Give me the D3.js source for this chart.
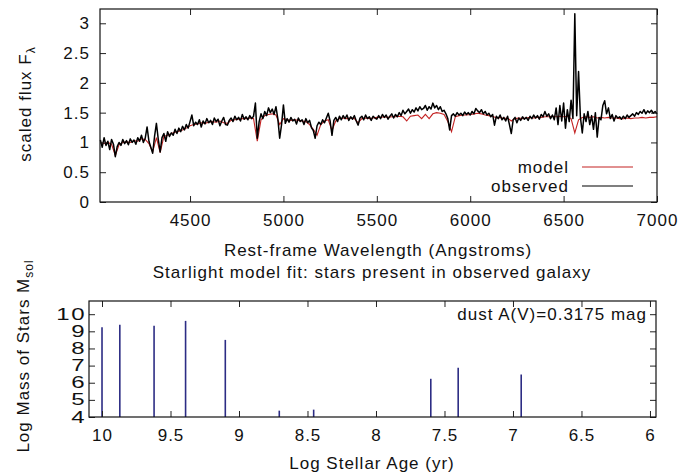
<!DOCTYPE html>
<html>
<head>
<meta charset="utf-8">
<script src="https://cdn.jsdelivr.net/npm/d3@7"></script>
<style>
body { margin: 0; background: #fff; }
text { font-family: "Liberation Sans", Arial, sans-serif; fill: #111; letter-spacing: 1px; }
</style>
</head>
<body>
<svg id="chart" width="694" height="475"></svg>
<script>
// spectrum, sampled every 10 A from 4020 to 7000
var observedFlux = [
    1.04, 0.92, 1.08, 0.95, 1.02, 0.88, 1.05, 0.97,
    0.76, 0.93, 1.00, 0.95, 1.05, 0.98, 1.03, 0.96, 1.06, 1.00,
    1.04, 0.97, 1.08, 1.02, 1.12, 1.00, 1.07, 1.26, 1.02, 0.92,
    0.82, 1.10, 1.32, 1.05, 0.84, 1.08, 1.15, 1.02, 1.18, 1.10,
    1.16, 1.12, 1.22, 1.15, 1.24, 1.18, 1.27, 1.21, 1.30, 1.24,
    1.35, 1.46, 1.28, 1.34, 1.30, 1.38, 1.26, 1.36, 1.31, 1.40,
    1.33, 1.37, 1.30, 1.41, 1.35, 1.39, 1.28, 1.36, 1.42, 1.30,
    1.29, 1.37, 1.41, 1.35, 1.44, 1.38, 1.42, 1.36, 1.47, 1.39,
    1.43, 1.38, 1.45, 1.40, 1.44, 1.66, 1.07, 1.35, 1.48, 1.40,
    1.52, 1.45, 1.58, 1.50, 1.56, 1.47, 1.60, 1.40, 1.07, 1.30,
    1.63, 1.32, 1.40, 1.34, 1.42, 1.36, 1.39, 1.31, 1.41, 1.35,
    1.38, 1.30, 1.40, 1.33, 1.37, 1.25, 1.20, 1.07, 1.28, 1.34,
    1.30, 1.38, 1.33, 1.41, 1.49, 1.36, 1.12, 1.37, 1.42, 1.35,
    1.44, 1.38, 1.45, 1.40, 1.46, 1.37, 1.43, 1.39, 1.45, 1.36,
    1.29, 1.41, 1.44, 1.38, 1.46, 1.40, 1.43, 1.37, 1.44, 1.41,
    1.39, 1.45, 1.40, 1.47, 1.42, 1.46, 1.39, 1.44, 1.48, 1.41,
    1.47, 1.43, 1.50, 1.45, 1.54, 1.48, 1.52, 1.56, 1.49, 1.55,
    1.51, 1.58, 1.53, 1.60, 1.55, 1.57, 1.62, 1.54, 1.60, 1.56,
    1.66, 1.58, 1.62, 1.55, 1.60, 1.52, 1.54, 1.48, 1.40, 1.21,
    1.45, 1.48, 1.44, 1.50, 1.46, 1.49, 1.45, 1.51, 1.47, 1.50,
    1.46, 1.52, 1.48, 1.57, 1.53, 1.50, 1.55, 1.48, 1.52, 1.46,
    1.49, 1.43, 1.47, 1.29, 1.44, 1.40, 1.46, 1.38, 1.42, 1.36,
    1.44, 1.30, 1.15, 1.38, 1.42, 1.33, 1.41, 1.37, 1.43, 1.39,
    1.42, 1.37, 1.44, 1.40, 1.46, 1.41, 1.45, 1.39, 1.47, 1.43,
    1.52, 1.44, 1.48, 1.40, 1.46, 1.38, 1.58, 1.30, 1.62, 1.36,
    1.66, 1.24, 1.55, 1.35, 1.71, 1.40, 3.16, 1.45, 2.19, 1.42,
    1.16, 1.48, 1.35, 1.52, 1.30, 1.45, 1.22, 1.50, 1.09, 1.42,
    1.38, 1.62, 1.70, 1.48, 1.58, 1.40, 1.47, 1.36, 1.45, 1.41,
    1.43, 1.39, 1.44, 1.40, 1.46, 1.42, 1.45, 1.48, 1.44, 1.50,
    1.47, 1.52, 1.49, 1.55, 1.48, 1.53, 1.50, 1.54, 1.49, 1.52,
    1.48
];
// model, every 20 A from 4020 to 7000
var modelFlux = [
    1.00, 0.98, 1.00, 0.97, 0.78, 0.96, 1.00, 1.01, 1.00, 1.03,
    1.02, 1.06, 1.05, 0.98, 0.84, 1.08, 0.83, 1.10, 1.12, 1.15,
    1.17, 1.19, 1.21, 1.24, 1.28, 1.30, 1.31, 1.33, 1.32, 1.34,
    1.35, 1.34, 1.36, 1.33, 1.32, 1.37, 1.38, 1.39, 1.40, 1.40,
    1.41, 1.40, 1.02, 1.38, 1.45, 1.47, 1.48, 1.46, 1.30, 1.40,
    1.38, 1.37, 1.38, 1.37, 1.36, 1.35, 1.30, 1.22, 1.12, 1.30,
    1.36, 1.38, 1.20, 1.36, 1.40, 1.41, 1.40, 1.41, 1.40, 1.33,
    1.40, 1.41, 1.40, 1.41, 1.42, 1.42, 1.43, 1.42, 1.43, 1.43,
    1.44, 1.43, 1.36, 1.44, 1.45, 1.46, 1.40, 1.47, 1.40, 1.48,
    1.50, 1.49, 1.47, 1.35, 1.18, 1.43, 1.45, 1.46, 1.46, 1.47,
    1.48, 1.49, 1.48, 1.46, 1.45, 1.44, 1.41, 1.42, 1.40, 1.41,
    1.36, 1.40, 1.41, 1.40, 1.41, 1.42, 1.41, 1.42, 1.42, 1.43,
    1.43, 1.44, 1.43, 1.44, 1.43, 1.44, 1.40, 1.16, 1.38, 1.42,
    1.43, 1.42, 1.43, 1.41, 1.42, 1.41, 1.42, 1.41, 1.41, 1.40,
    1.40, 1.41, 1.40, 1.41, 1.41, 1.42, 1.41, 1.42, 1.42, 1.43
];
var fluxTicks = [0, 0.5, 1, 1.5, 2, 2.5, 3];
var waveTicks = [4500, 5000, 5500, 6000, 6500, 7000];

// stellar populations
var logAge = [10.0, 9.87, 9.62, 9.39, 9.10, 8.706, 8.455, 7.60, 7.40, 6.94];
var logMass = [9.24, 9.38, 9.32, 9.61, 8.50, 4.37, 4.43, 6.23, 6.87, 6.48];
var ageTicks = [10, 9.5, 9, 8.5, 8, 7.5, 7, 6.5, 6];
var massTicks = [4, 5, 6, 7, 8, 9, 10];
var dustAV = 0.3175;

var svg = d3.select("#chart");
var fs = "17px";

// ---- top panel: spectrum
var x1 = d3.scaleLinear().domain([4018, 7000]).range([100, 657]);
var y1 = d3.scaleLinear().domain([0, 3.24]).range([202, 9]);

var obs = observedFlux.map(function (v, i) { return [4020 + i * 10, v]; });
var mod = modelFlux.map(function (v, i) { return [4020 + i * 20, v]; });

var line1 = d3.line().x(function (d) { return x1(d[0]); }).y(function (d) { return y1(d[1]); });

svg.append("path").datum(mod).attr("d", line1)
    .attr("fill", "none").attr("stroke", "#c42323").attr("stroke-width", 1.1);
svg.append("path").datum(obs).attr("d", line1)
    .attr("fill", "none").attr("stroke", "#000").attr("stroke-width", 1.5)
    .attr("stroke-linejoin", "round");

function drawFrame(x, y, xt, yt, xfmt, yfmt, ypad) {
    var g = svg.append("g");
    var xa = d3.axisBottom(x).tickValues(xt).tickSize(-6).tickSizeOuter(0).tickFormat(xfmt).tickPadding(12);
    var xtop = d3.axisTop(x).tickValues(xt).tickSize(-6).tickSizeOuter(0).tickFormat("");
    var ya = d3.axisLeft(y).tickValues(yt).tickSize(-6).tickSizeOuter(0).tickFormat(yfmt).tickPadding(ypad);
    var yright = d3.axisRight(y).tickValues(yt).tickSize(-6).tickSizeOuter(0).tickFormat("");
    g.append("g").attr("transform", "translate(0," + y.range()[0] + ")").call(xa);
    g.append("g").attr("transform", "translate(0," + y.range()[1] + ")").call(xtop);
    var yg = g.append("g").attr("transform", "translate(" + x.range()[0] + ",0)").call(ya);
    g.append("g").attr("transform", "translate(" + x.range()[1] + ",0)").call(yright);
    g.selectAll(".domain").remove();
    g.selectAll("line").attr("stroke", "#222");
    g.selectAll("text").style("font-size", fs).attr("fill", "#111")
        .style("font-family", "'Liberation Sans', Arial, sans-serif");
    g.append("rect")
        .attr("x", x.range()[0]).attr("y", y.range()[1])
        .attr("width", x.range()[1] - x.range()[0])
        .attr("height", y.range()[0] - y.range()[1])
        .attr("fill", "none").attr("stroke", "#111").attr("stroke-width", 1.2);
    return yg;
}

drawFrame(x1, y1, waveTicks, fluxTicks, d3.format("d"), d3.format("~g"), 10);

// legend
var legend = [["model", "#c42323", 167], ["observed", "#000", 186]];
legend.forEach(function (l) {
    svg.append("text").attr("x", 569).attr("y", l[2] + 6).attr("text-anchor", "end")
        .style("font-size", fs).text(l[0]);
    svg.append("line").attr("x1", 582).attr("x2", 633).attr("y1", l[2]).attr("y2", l[2])
        .attr("stroke", l[1]).attr("stroke-width", 1.2);
});

var yl1 = svg.append("text").attr("transform", "translate(31,104) rotate(-90)")
    .attr("text-anchor", "middle").style("font-size", fs);
yl1.append("tspan").text("scaled flux F");
yl1.append("tspan").attr("dy", 4).style("font-size", "12px").text("λ");

svg.append("text").attr("x", 378).attr("y", 256).attr("text-anchor", "middle")
    .style("font-size", fs).text("Rest-frame Wavelength (Angstroms)");
svg.append("text").attr("x", 372).attr("y", 278).attr("text-anchor", "middle")
    .style("font-size", fs).text("Starlight model fit: stars present in observed galaxy");

// ---- bottom panel: mass vs age
var x2 = d3.scaleLinear().domain([10.095, 5.956]).range([89, 656]);
var y2 = d3.scaleLinear().domain([4, 10.77]).range([417, 301]);

svg.append("g").selectAll("line").data(logAge).enter().append("line")
    .attr("x1", function (d) { return x2(d); })
    .attr("x2", function (d) { return x2(d); })
    .attr("y1", y2(4))
    .attr("y2", function (d, i) { return y2(logMass[i]); })
    .attr("stroke", "#2c2c84").attr("stroke-width", 1.6);

var massAxis = drawFrame(x2, y2, ageTicks, massTicks, d3.format("~g"), d3.format("d"), 2);
// mass tick labels are larger in the original
massAxis.selectAll("text")
    .style("font-size", "16px").style("letter-spacing", "1px")
    .attr("x", -2).attr("transform", "scale(1.5,1)");

svg.append("text").attr("x", 647).attr("y", 320).attr("text-anchor", "end")
    .style("font-size", fs).text("dust A(V)=" + dustAV + " mag");

svg.append("text").attr("x", 372).attr("y", 469).attr("text-anchor", "middle")
    .style("font-size", fs).text("Log Stellar Age (yr)");

var yl2 = svg.append("text").attr("transform", "translate(29,356) rotate(-90)")
    .attr("text-anchor", "middle").style("font-size", fs);
yl2.append("tspan").text("Log Mass of Stars M");
yl2.append("tspan").attr("dy", 4).style("font-size", "12px").text("sol");
</script>
</body>
</html>
